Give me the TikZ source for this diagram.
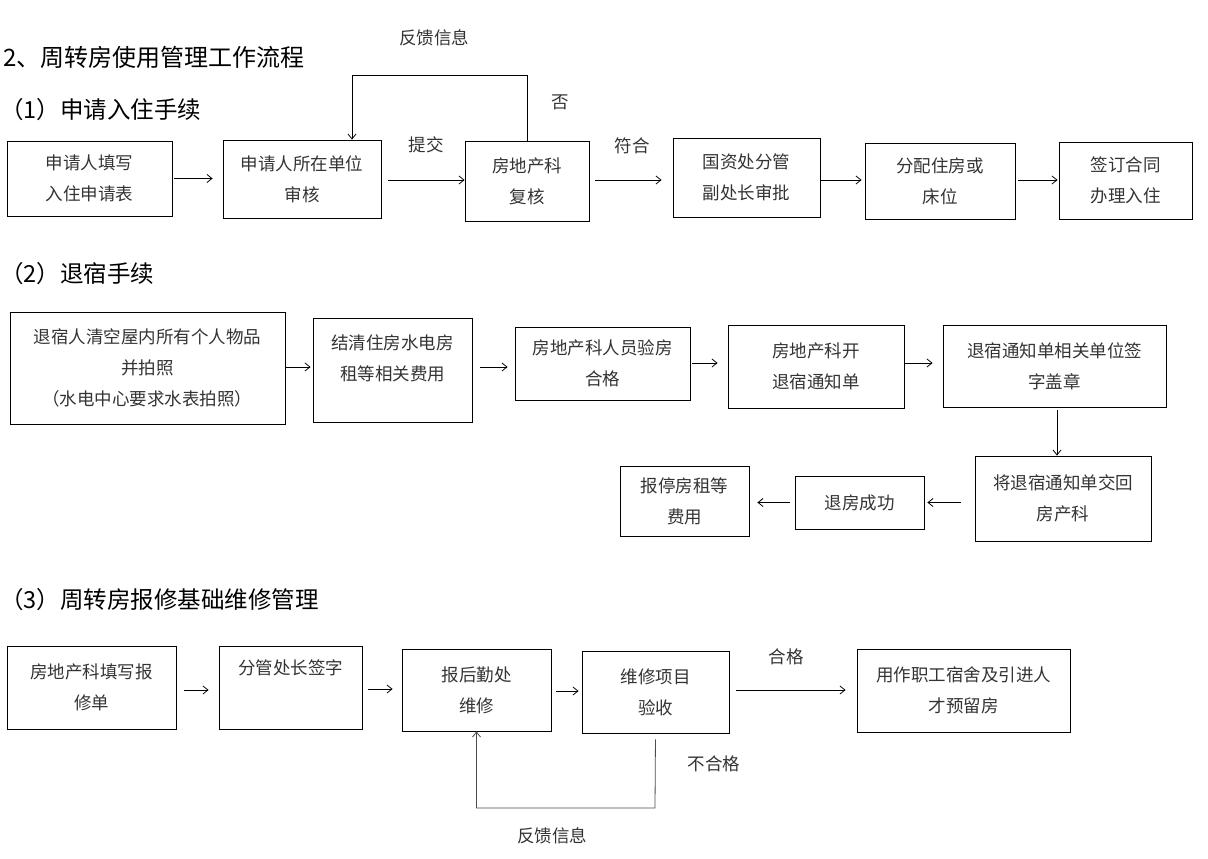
\documentclass[tikz,border=0pt]{standalone}
\usepackage{fontspec}
\setmainfont{Noto Sans CJK SC}
\usetikzlibrary{arrows.meta}
\begin{document}
\begin{tikzpicture}[x=1pt,y=-1pt]
  \tikzstyle{boxStyle}=[draw=black, line width=0.8pt, align=center, text=black!80, inner sep=0pt, font=\fontsize{17.5}{31}\selectfont]
  \tikzstyle{headStyle}=[anchor=west, inner sep=0pt, font=\fontsize{23.5}{28}\selectfont]
  \tikzstyle{labelStyle}=[text=black!80, inner sep=0pt, font=\fontsize{17.5}{20}\selectfont]
  \tikzstyle{flow}=[-{Straight Barb[length=5pt,width=8pt]}, line width=0.8pt]
  \useasboundingbox (0,0) rectangle (1208,859);

  \node[headStyle, font=\fontsize{24}{28}\selectfont](title) at (3,57) {2、周转房使用管理工作流程};

  % (1) check in
  \begin{scope}
   \node[headStyle](head1) at (0,110) {（1）申请入住手续};
   \node[boxStyle, minimum width=165, minimum height=75](apply) at (89.5,178.5) {申请人填写\\入住申请表};
   \node[boxStyle, minimum width=158, minimum height=78](unit) at (302,179) {申请人所在单位\\审核};
   \node[boxStyle, minimum width=124, minimum height=80](estate) at (527,181) {房地产科\\复核};
   \node[boxStyle, minimum width=147, minimum height=79](approve) at (746.5,177.5) {国资处分管\\副处长审批};
   \node[boxStyle, minimum width=150, minimum height=76](assign) at (940,181) {分配住房或\\床位};
   \node[boxStyle, minimum width=133, minimum height=77](contract) at (1125.5,180.5) {签订合同\\办理入住};

   \draw[flow, shorten <=2pt, shorten >=10pt] (apply.east) -- (apply.east -| unit.west);
   \draw[flow, shorten <=7pt] (unit.east |- 0,180) -- (estate.west |- 0,180);
   \node[labelStyle](submit) at (426,145) {提交};
   \draw[flow, shorten <=6pt, shorten >=11pt] (estate.east |- 0,180) -- (approve.west |- 0,180);
   \node[labelStyle](conform) at (632,146) {符合};
   \draw[flow, shorten <=1pt, shorten >=3pt] (approve.east |- 0,180) -- (assign.west |- 0,180);
   \draw[flow, shorten <=3pt, shorten >=1pt] (assign.east |- 0,180) -- (contract.west |- 0,180);

   \coordinate (fb1) at (352,75);
   \draw[flow] (estate.north) |- (fb1) -- (fb1 |- unit.north);
   \node[labelStyle](feedback1) at (434,38) {反馈信息};
   \node[labelStyle](no) at (560,102) {否};
  \end{scope}

  % (2) check out
  \begin{scope}
   \node[headStyle](head2) at (0,274) {（2）退宿手续};
   \node[boxStyle, minimum width=275, minimum height=112](clear) at (147.5,368) {退宿人清空屋内所有个人物品\\并拍照\\（水电中心要求水表拍照）};
   \node[boxStyle, minimum width=159, minimum height=104](settle) at (392.5,370) {结清住房水电房\\租等相关费用\\[-6pt]};
   \node[boxStyle, minimum width=175, minimum height=73](inspect) at (602.5,363.5) {房地产科人员验房\\合格};
   \node[boxStyle, minimum width=176, minimum height=83](notice) at (816,366.5) {房地产科开\\退宿通知单};
   \node[boxStyle, minimum width=223, minimum height=82](sign) at (1054.5,366) {退宿通知单相关单位签\\字盖章};
   \node[boxStyle, minimum width=176, minimum height=85](hand) at (1063,498.5) {将退宿通知单交回\\房产科};
   \node[boxStyle, minimum width=129, minimum height=53](done) at (859.5,502.5) {退房成功};
   \node[boxStyle, minimum width=129, minimum height=70](stop) at (684.5,501) {报停房租等\\费用};

   \draw[flow, shorten <=1pt, shorten >=2pt] (clear.east |- 0,367) -- (settle.west |- 0,367);
   \draw[flow, shorten <=8pt, shorten >=7pt] (settle.east |- 0,367) -- (inspect.west |- 0,367);
   \draw[flow, shorten <=2pt, shorten >=10pt] (inspect.east |- 0,363) -- (notice.west |- 0,363);
   \draw[flow, shorten <=1pt, shorten >=10pt] (notice.east |- 0,363) -- (sign.west |- 0,363);
   \draw[flow, shorten <=3pt] (sign.south -| 1057,0) -- (hand.north -| 1057,0);
   \draw[flow, shorten <=14pt, shorten >=3pt] (hand.west |- done.east) -- (done.east);
   \draw[flow, shorten <=5pt, shorten >=8pt] (done.west) -- (done.west -| stop.east);
  \end{scope}

  % (3) repair
  \begin{scope}
   \node[headStyle](head3) at (0,600) {（3）周转房报修基础维修管理};
   \node[boxStyle, minimum width=169, minimum height=83](form) at (91.5,687.5) {房地产科填写报\\修单};
   \node[boxStyle, minimum width=143, minimum height=83](chief) at (290.5,687.5) {分管处长签字\\ \strut};
   \node[boxStyle, minimum width=149, minimum height=82](logistics) at (476.5,690) {报后勤处\\维修};
   \node[boxStyle, minimum width=147, minimum height=82](check) at (655.5,692) {维修项目\\验收};
   \node[boxStyle, minimum width=213, minimum height=83](reserve) at (963.5,690.5) {用作职工宿舍及引进人\\才预留房};

   \draw[flow, shorten <=8pt, shorten >=10pt] (form.east |- 0,690) -- (chief.west |- 0,690);
   \draw[flow, shorten <=6pt, shorten >=9pt] (chief.east |- 0,689) -- (logistics.west |- 0,689);
   \draw[flow, shorten <=5pt, shorten >=3pt] (logistics.east |- 0,691) -- (check.west |- 0,691);
   \draw[flow, shorten <=7pt, shorten >=11pt] (check.east |- 0,690) -- (reserve.west |- 0,690);
   \node[labelStyle](pass) at (786,657) {合格};

   \coordinate (fb3) at (655,808);
   \draw[flow, black!70, shorten <=6pt] (check.south) -- (fb3) -| (logistics.south);
   \node[labelStyle](fail) at (714,764) {不合格};
   \node[labelStyle](feedback3) at (552,836) {反馈信息};
  \end{scope}

\end{tikzpicture}
\end{document}
